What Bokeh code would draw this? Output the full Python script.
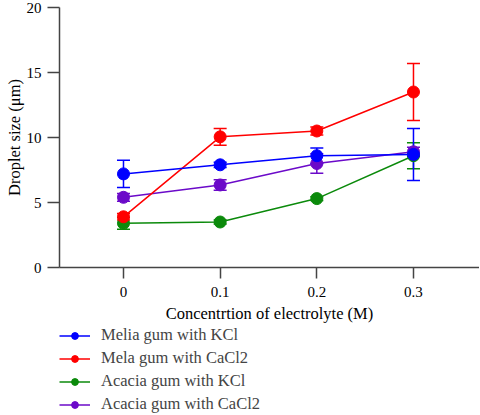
from bokeh.plotting import figure
from bokeh.layouts import column
from bokeh.models import ColumnDataSource, Whisker, TeeHead, Legend, LegendItem, FixedTicker, Range1d
from bokeh.embed import file_html
from bokeh.resources import INLINE

# ---- data ----
concentration = [0, 0.1, 0.2, 0.3]
x_tick_labels = ["0", "0.1", "0.2", "0.3"]
y_ticks = [0, 5, 10, 15, 20]

series_names = ["Melia gum with KCl", "Mela gum with CaCl2", "Acacia gum with KCl", "Acacia gum with CaCl2"]
melia_kcl = [7.2, 7.9, 8.6, 8.7]
melia_kcl_err = [1.05, 0.2, 0.6, 2.0]
melia_cacl2 = [3.9, 10.05, 10.5, 13.5]
melia_cacl2_err = [0.25, 0.65, 0.3, 2.2]
acacia_kcl = [3.4, 3.5, 5.3, 8.6]
acacia_kcl_err = [0.45, 0.15, 0.15, 1.0]
acacia_cacl2 = [5.4, 6.35, 8.0, 8.9]
acacia_cacl2_err = [0.3, 0.4, 0.75, 0.35]
colors = ["#0000ff", "#ff0000", "#0b8a0b", "#6b0ac9"]

FONT = "Liberation Serif"
TICK_SIZE = "15px"
LABEL_SIZE = "16.5px"

p = figure(width=479, height=325, output_backend="svg", toolbar_location=None,
           x_range=Range1d(-0.0662, 0.3683), y_range=Range1d(0, 20),
           min_border_left=59, min_border_right=0, min_border_top=7,
           min_border_bottom=58)
p.outline_line_color = None
p.grid.visible = False
p.background_fill_color = "white"

vals = [melia_kcl, melia_cacl2, acacia_kcl, acacia_cacl2]
errs = [melia_kcl_err, melia_cacl2_err, acacia_kcl_err, acacia_cacl2_err]

order = [2, 3, 1, 0]
for i in order:
    y = vals[i]
    e = errs[i]
    src = ColumnDataSource(dict(x=concentration, y=y,
                                upper=[a + b for a, b in zip(y, e)],
                                lower=[a - b for a, b in zip(y, e)]))
    w = Whisker(source=src, base="x", upper="upper", lower="lower",
                line_color=colors[i], line_width=1.5,
                upper_head=TeeHead(size=13, line_color=colors[i], line_width=1.5),
                lower_head=TeeHead(size=13, line_color=colors[i], line_width=1.5))
    p.add_layout(w)
    p.line("x", "y", source=src, line_color=colors[i], line_width=1.5)
    p.scatter("x", "y", source=src, size=12, fill_color=colors[i], line_color=colors[i])

# axes
for ax in (p.xaxis[0], p.yaxis[0]):
    ax.axis_line_color = "#444444"
    ax.axis_line_width = 1.5
    ax.major_tick_line_color = "#444444"
    ax.major_tick_line_width = 1.5
    ax.minor_tick_line_color = None
    ax.major_tick_in = 0
    ax.major_label_text_font = FONT
    ax.major_label_text_font_size = TICK_SIZE
    ax.major_label_text_color = "black"
    ax.axis_label_text_font = FONT
    ax.axis_label_text_font_size = LABEL_SIZE
    ax.axis_label_text_font_style = "normal"
    ax.axis_label_text_color = "black"

p.xaxis[0].ticker = FixedTicker(ticks=concentration)
p.xaxis[0].major_label_overrides = {t: l for t, l in zip(concentration, x_tick_labels)}
p.xaxis[0].major_tick_out = 11
p.xaxis[0].major_label_standoff = 8
p.xaxis[0].axis_label = "Concentrtion of electrolyte (M)"
p.xaxis[0].axis_label_standoff = 4

p.yaxis[0].ticker = FixedTicker(ticks=y_ticks)
p.yaxis[0].major_tick_out = 12
p.yaxis[0].major_label_standoff = 6
p.yaxis[0].axis_label = "Droplet size (μm)"
p.yaxis[0].axis_label_standoff = 0

# ---- legend in its own strip below the plot ----
lg = figure(width=479, height=89, output_backend="svg", toolbar_location=None,
            x_range=Range1d(0, 1), y_range=Range1d(0, 1),
            min_border_left=58, min_border_right=0, min_border_top=0, min_border_bottom=0)
lg.outline_line_color = None
lg.grid.visible = False
lg.axis.visible = False
items = []
for i in range(4):
    offscreen = ColumnDataSource(dict(x=[-10, -9], y=[-10, -10]))
    ln = lg.line("x", "y", source=offscreen, line_color=colors[i], line_width=1.5)
    sc = lg.scatter("x", "y", source=offscreen, size=12, fill_color=colors[i], line_color=colors[i])
    items.append(LegendItem(label=series_names[i], renderers=[ln, sc]))
legend = Legend(items=items, location="bottom_left", orientation="vertical",
                margin=0, padding=0, spacing=3,
                glyph_width=31, glyph_height=17, label_height=17,
                label_standoff=11, label_text_font=FONT, label_text_font_size=LABEL_SIZE,
                border_line_color=None, background_fill_alpha=0)
lg.add_layout(legend, "center")

layout = column(p, lg, spacing=0)
open("out.html", "w").write(file_html(layout, INLINE))
